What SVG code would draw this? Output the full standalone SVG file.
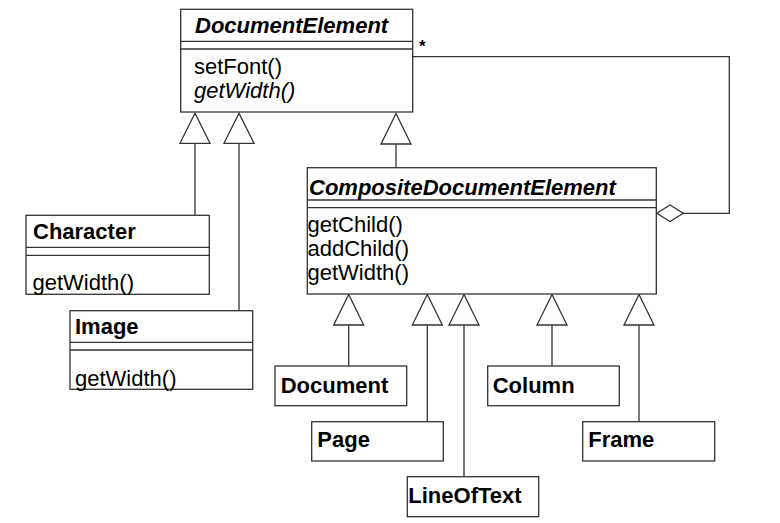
<svg xmlns="http://www.w3.org/2000/svg" width="780" height="523" viewBox="0 0 780 523">
<style>
.box{fill:#fff;stroke:#333;stroke-width:1.3}
.ln{fill:none;stroke:#333;stroke-width:1.3}
.tri{fill:#fff;stroke:#333;stroke-width:1.3}
text{font-family:"Liberation Sans",Arial,sans-serif;font-size:22px;fill:#000}
.b{font-weight:bold}
.bi{font-weight:bold;font-style:italic}
.i{font-style:italic}
</style>
<rect width="780" height="523" fill="#fff"/>
<g id="connectors">
<line class="ln" x1="195" y1="143.3" x2="195" y2="215.3"/>
<line class="ln" x1="239" y1="143.3" x2="239" y2="310.7"/>
<line class="ln" x1="396" y1="144" x2="396" y2="167.7"/>
<polyline class="ln" points="412.7,56.7 729.3,56.7 729.3,213.3 675,213.3"/>
<polygon class="tri" points="656.7,213.3 670,205 683.3,213.3 670,221.6"/>
<text x="419" y="52" style="font-size:17px;font-weight:bold">*</text>
<polygon class="tri" points="195,113.3 180,143.3 210,143.3"/>
<polygon class="tri" points="239,113.3 224,143.3 254,143.3"/>
<polygon class="tri" points="396,113.5 381,144 411,144"/>
<line class="ln" x1="348.7" y1="325" x2="348.7" y2="366"/>
<line class="ln" x1="427.3" y1="325" x2="427.3" y2="421.7"/>
<line class="ln" x1="464" y1="325" x2="464" y2="476.7"/>
<line class="ln" x1="552" y1="325" x2="552" y2="366"/>
<line class="ln" x1="639" y1="325" x2="639" y2="421.7"/>
<polygon class="tri" points="348.7,294.5 333.7,325 363.7,325"/>
<polygon class="tri" points="427.3,294.5 412.3,325 442.3,325"/>
<polygon class="tri" points="464,294.5 449,325 479,325"/>
<polygon class="tri" points="552,294.5 537,325 567,325"/>
<polygon class="tri" points="639,294.5 624,325 654,325"/>
</g>
<g id="DocumentElement">
<rect class="box" x="180.7" y="9.3" width="232" height="102.7"/>
<line class="ln" x1="180.7" y1="41.3" x2="412.7" y2="41.3"/>
<line class="ln" x1="180.7" y1="49" x2="412.7" y2="49"/>
<text class="bi" x="195" y="33">DocumentElement</text>
<text x="194" y="73.5">setFont()</text>
<text class="i" x="194" y="97.5">getWidth()</text>
</g>
<g id="CompositeDocumentElement">
<rect class="box" x="307.3" y="167.7" width="349" height="126.3"/>
<line class="ln" x1="307.3" y1="200" x2="656.3" y2="200"/>
<line class="ln" x1="307.3" y1="207.7" x2="656.3" y2="207.7"/>
<text class="bi" x="309" y="195">CompositeDocumentElement</text>
<text x="307.5" y="232">getChild()</text>
<text x="307.5" y="256">addChild()</text>
<text x="307.5" y="280">getWidth()</text>
</g>
<g id="Character">
<rect class="box" x="26" y="215.3" width="183.3" height="79"/>
<line class="ln" x1="26" y1="247.3" x2="209.3" y2="247.3"/>
<line class="ln" x1="26" y1="255.3" x2="209.3" y2="255.3"/>
<text class="b" x="33" y="239">Character</text>
<text x="32.5" y="290">getWidth()</text>
</g>
<g id="Image">
<rect class="box" x="70" y="310.7" width="182.7" height="78.6"/>
<line class="ln" x1="70" y1="342.3" x2="252.7" y2="342.3"/>
<line class="ln" x1="70" y1="350" x2="252.7" y2="350"/>
<text class="b" x="75" y="334">Image</text>
<text x="75" y="386">getWidth()</text>
</g>
<g id="Document">
<rect class="box" x="275" y="366" width="131.7" height="39.7"/>
<text class="b" x="280.7" y="392.7">Document</text>
</g>
<g id="Page">
<rect class="box" x="311.7" y="421.7" width="131.6" height="39.3"/>
<text class="b" x="317.3" y="447.3">Page</text>
</g>
<g id="LineOfText">
<rect class="box" x="407.3" y="476.7" width="131.4" height="40"/>
<text class="b" x="408.3" y="503.3">LineOfText</text>
</g>
<g id="Column">
<rect class="box" x="487.7" y="366" width="131.6" height="39.7"/>
<text class="b" x="492.7" y="392.7">Column</text>
</g>
<g id="Frame">
<rect class="box" x="582.7" y="421.7" width="132" height="39.3"/>
<text class="b" x="588.3" y="447.3">Frame</text>
</g>
</svg>
